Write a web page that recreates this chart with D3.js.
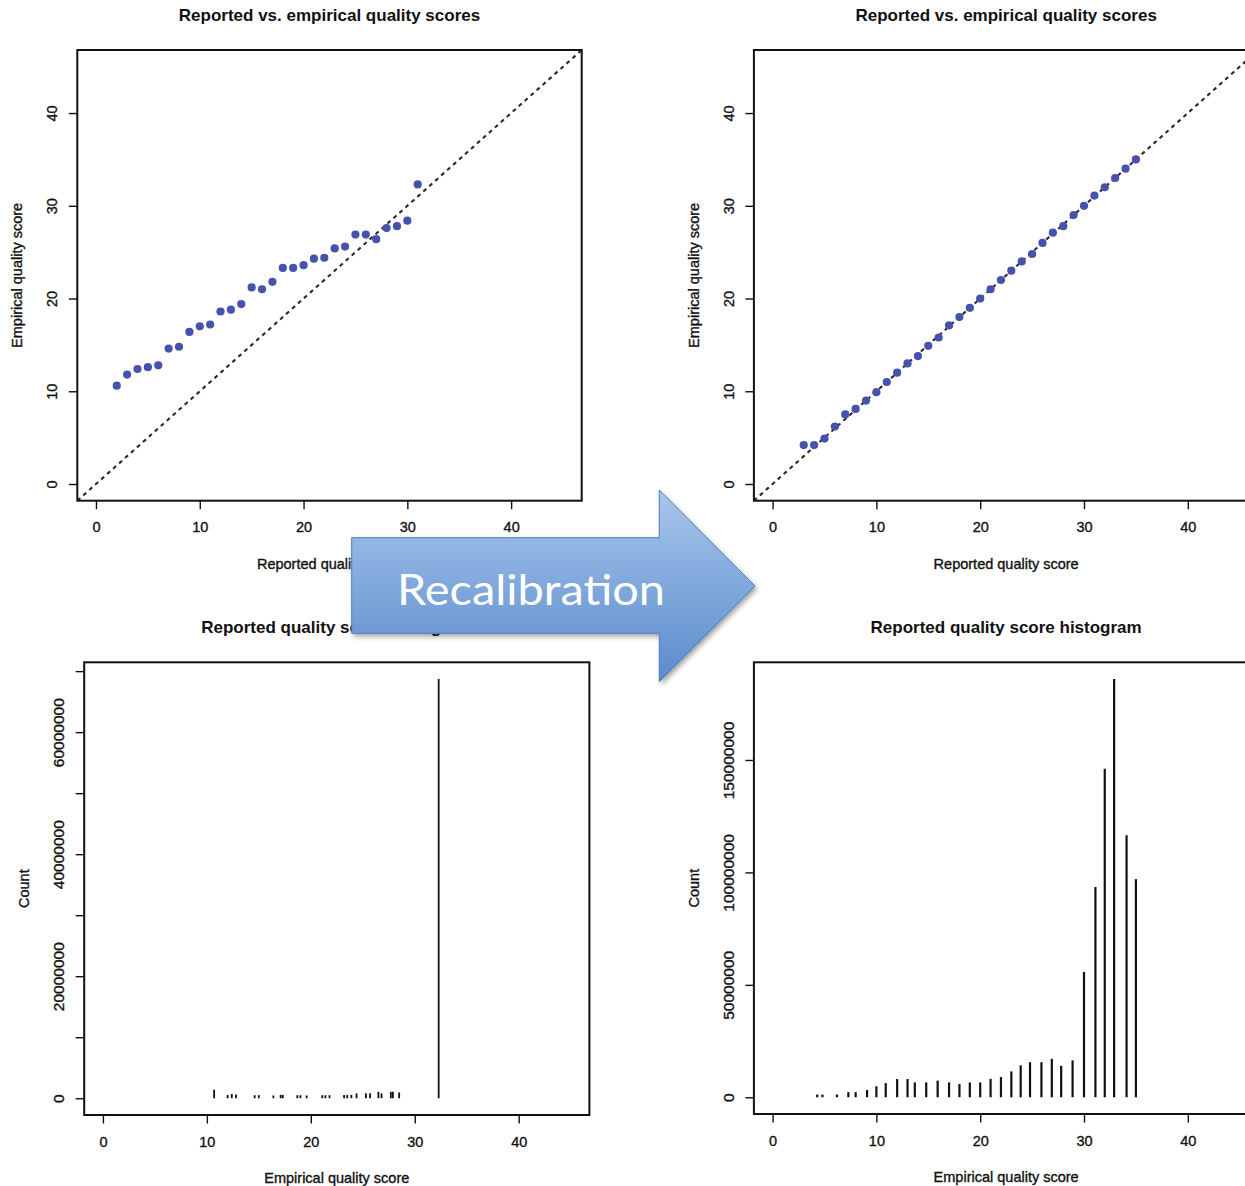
<!DOCTYPE html>
<html>
<head>
<meta charset="utf-8">
<script src="https://cdn.jsdelivr.net/npm/d3@7"></script>
<style>
  body { margin: 0; background: #fff; }
  svg text { font-family: "Liberation Sans", Arial, Helvetica, sans-serif; fill: #111; }
  svg .rtext { stroke: #111; stroke-width: 0.35px; }
</style>
</head>
<body>
<svg id="fig" width="1245" height="1186"></svg>
<script>
// ---- data ----
var reportedBefore = [2, 3, 4, 5, 6, 7, 8, 9, 10, 11, 12, 13, 14, 15, 16, 17, 18, 19, 20, 21, 22, 23, 24, 25, 26, 27, 28, 29, 30, 31];
var empiricalBefore = [10.6, 11.8, 12.4, 12.6, 12.8, 14.6, 14.8, 16.4, 17.0, 17.2, 18.6, 18.8, 19.4, 21.2, 21.0, 21.8,
                       23.3, 23.3, 23.6, 24.3, 24.4, 25.4, 25.6, 26.9, 26.9, 26.4, 27.6, 27.8, 28.4, 32.3];

var reportedAfter = [3, 4, 5, 6, 7, 8, 9, 10, 11, 12, 13, 14, 15, 16, 17, 18, 19, 20, 21, 22, 23, 24, 25, 26, 27, 28, 29, 30, 31, 32, 33, 34, 35];
var empiricalAfter = [4.2, 4.2, 4.9, 6.2, 7.5, 8.1, 9.0, 9.9, 11.0, 12.0, 13.0, 13.8, 14.9, 15.8, 17.1, 18.0, 19.0,
                      20.0, 21.0, 22.0, 23.0, 24.0, 24.8, 26.0, 27.1, 27.8, 29.0, 30.0, 31.1, 32.0, 33.0, 34.0, 35.0];

var histBeforeScore = [10.7, 12.0, 12.4, 12.8, 14.6, 15.0, 16.4, 17.1, 17.3, 18.7, 19.0, 19.6, 21.1, 21.4, 21.8,
                       23.2, 23.5, 23.9, 24.4, 25.3, 25.7, 26.5, 26.8, 27.7, 27.9, 28.5, 32.3];
var histBeforeCount = [1.4e6, 0.55e6, 0.7e6, 0.6e6, 0.5e6, 0.5e6, 0.45e6, 0.55e6, 0.55e6, 0.5e6, 0.5e6, 0.45e6, 0.5e6, 0.5e6, 0.5e6,
                       0.55e6, 0.55e6, 0.55e6, 0.8e6, 0.8e6, 0.8e6, 1.05e6, 0.8e6, 1.05e6, 1.05e6, 0.95e6, 68.7e6];

var histAfterScore = [4.3, 4.8, 6.2, 7.3, 8.0, 9.1, 10.0, 10.9, 12.0, 13.0, 13.7, 14.8, 15.9, 17.0, 18.0, 19.0, 20.0,
                      21.0, 22.0, 23.0, 23.9, 24.8, 25.9, 26.9, 27.8, 28.9, 30.0, 31.1, 32.0, 32.9, 34.1, 35.0];
var histAfterCount = [1.2e6, 1.2e6, 1.2e6, 2.3e6, 2.3e6, 3.2e6, 4.9e6, 6.3e6, 8.1e6, 8.1e6, 6.6e6, 6.6e6, 7.4e6, 6.6e6, 5.9e6, 6.6e6, 6.6e6,
                      8.2e6, 9.0e6, 11.5e6, 14.2e6, 15.6e6, 15.6e6, 17.1e6, 14.0e6, 16.4e6, 55.7e6, 93.5e6, 146.1e6, 186.0e6, 116.5e6, 97.0e6];

var qualityLimits = [0, 45];
var qualityTicks = [0, 10, 20, 30, 40];
var countTicksBefore = [0, 1e7, 2e7, 3e7, 4e7, 5e7, 6e7, 7e7];
var countLabelsBefore = [0, 2e7, 4e7, 6e7];
var countTicksAfter = [0, 5e7, 1e8, 1.5e8];

var titleScatter = "Reported vs. empirical quality scores";
var titleHist = "Reported quality score histogram";

var svg = d3.select("#fig");
var defs = svg.append("defs");

// R style axis limits: range extended 4% each side
function rlim(lim) {
    var pad = 0.04 * (lim[1] - lim[0]);
    return [lim[0] - pad, lim[1] + pad];
}

var fmt = d3.format("d");

function panel(box, xLim, yLim, yTicks, yLabelTicks, yFont, title, xLabel, yLabel) {
    var g = svg.append("g");
    var x = d3.scaleLinear().domain(rlim(xLim)).range([box.left, box.right]);
    var y = d3.scaleLinear().domain(rlim(yLim)).range([box.bottom, box.top]);

    g.append("g")
        .attr("transform", "translate(0," + box.bottom + ")")
        .call(d3.axisBottom(x).tickValues(qualityTicks).tickSize(8.5).tickPadding(13).tickFormat(fmt))
        .call(function (a) {
            a.select(".domain").remove();
            a.selectAll("line").attr("stroke", "#111").attr("stroke-width", 1.4);
            a.selectAll("text").attr("class", "rtext").style("font-size", "14.5px").attr("fill", "#111");
        });

    g.append("g")
        .attr("transform", "translate(" + box.left + ",0)")
        .call(d3.axisLeft(y).tickValues(yTicks).tickSize(8.5)
            .tickFormat(function (d) { return yLabelTicks.indexOf(d) >= 0 ? fmt(d) : ""; }))
        .call(function (a) {
            a.select(".domain").remove();
            a.selectAll("line").attr("stroke", "#111").attr("stroke-width", 1.4);
            a.selectAll("text")
                .attr("class", "rtext")
                .style("font-size", yFont).attr("fill", "#111")
                .attr("transform", "rotate(-90)")
                .attr("x", 0).attr("y", -20).attr("dy", 0)
                .attr("text-anchor", "middle");
        });

    g.append("text")
        .attr("x", (box.left + box.right) / 2).attr("y", box.top - 29)
        .attr("text-anchor", "middle")
        .style("font-size", "17px").style("font-weight", "bold")
        .text(title);

    g.append("text")
        .attr("class", "rtext")
        .attr("x", (box.left + box.right) / 2).attr("y", box.bottom + 68)
        .attr("text-anchor", "middle")
        .style("font-size", "14.5px")
        .text(xLabel);

    g.append("text")
        .attr("class", "rtext")
        .attr("transform", "translate(" + (box.left - 55) + "," + ((box.top + box.bottom) / 2) + ") rotate(-90)")
        .attr("text-anchor", "middle")
        .style("font-size", "14.5px")
        .text(yLabel);

    var id = "clip" + Math.round(box.left) + "_" + Math.round(box.top);
    defs.append("clipPath").attr("id", id)
        .append("rect")
        .attr("x", box.left).attr("y", box.top)
        .attr("width", box.right - box.left).attr("height", box.bottom - box.top);

    var plot = g.append("g").attr("clip-path", "url(#" + id + ")");

    g.append("rect")
        .attr("x", box.left).attr("y", box.top)
        .attr("width", box.right - box.left).attr("height", box.bottom - box.top)
        .attr("fill", "none").attr("stroke", "#111").attr("stroke-width", 2);

    return { x: x, y: y, plot: plot };
}

function scatter(p, xs, ys) {
    var d = rlim(qualityLimits);
    p.plot.append("line")
        .attr("x1", p.x(d[0])).attr("y1", p.y(d[0]))
        .attr("x2", p.x(d[1])).attr("y2", p.y(d[1]))
        .attr("stroke", "#2a2a2a").attr("stroke-width", 2.1)
        .attr("stroke-dasharray", "4,4");
    p.plot.selectAll("circle")
        .data(xs)
        .enter().append("circle")
        .attr("cx", function (v) { return p.x(v); })
        .attr("cy", function (v, i) { return p.y(ys[i]); })
        .attr("r", 4.1)
        .attr("fill", "#4652ad");
}

function spikes(p, xs, counts, w) {
    p.plot.selectAll("line.bar")
        .data(xs)
        .enter().append("line")
        .attr("class", "bar")
        .attr("x1", function (v) { return p.x(v); })
        .attr("x2", function (v) { return p.x(v); })
        .attr("y1", p.y(0))
        .attr("y2", function (v, i) { return p.y(counts[i]); })
        .attr("stroke", "#111").attr("stroke-width", w);
}

var boxTL = { left: 77.3, right: 581.7, top: 50, bottom: 500.7 };
var boxTR = { left: 753.9, right: 1258.4, top: 50, bottom: 500.7 };
var boxBL = { left: 84.2, right: 589.4, top: 662.3, bottom: 1115 };
var boxBR = { left: 753.9, right: 1258.4, top: 662.3, bottom: 1114 };

var tl = panel(boxTL, qualityLimits, qualityLimits, qualityTicks, qualityTicks, "14.5px", titleScatter, "Reported quality score", "Empirical quality score");
scatter(tl, reportedBefore, empiricalBefore);

var tr = panel(boxTR, qualityLimits, qualityLimits, qualityTicks, qualityTicks, "14.5px", titleScatter, "Reported quality score", "Empirical quality score");
scatter(tr, reportedAfter, empiricalAfter);

var bl = panel(boxBL, qualityLimits, [0, d3.max(histBeforeCount)], countTicksBefore, countLabelsBefore, "15.5px", titleHist, "Empirical quality score", "Count");
spikes(bl, histBeforeScore, histBeforeCount, 1.8);

var br = panel(boxBR, qualityLimits, [0, d3.max(histAfterCount)], countTicksAfter, countTicksAfter, "15.5px", titleHist, "Empirical quality score", "Count");
spikes(br, histAfterScore, histAfterCount, 2.2);

// ---- the "Recalibration" arrow on top ----
var grad = defs.append("linearGradient").attr("id", "arrowGrad")
    .attr("gradientUnits", "userSpaceOnUse")
    .attr("x1", 0).attr("y1", 490).attr("x2", 0).attr("y2", 682);
grad.append("stop").attr("offset", "0%").attr("stop-color", "#aac6ea");
grad.append("stop").attr("offset", "50%").attr("stop-color", "#80a8dc");
grad.append("stop").attr("offset", "100%").attr("stop-color", "#5a8bcc");

var shadow = defs.append("filter").attr("id", "arrowShadow")
    .attr("x", "-10%").attr("y", "-10%").attr("width", "130%").attr("height", "130%");
shadow.append("feDropShadow")
    .attr("dx", 2).attr("dy", 3).attr("stdDeviation", 2.5)
    .attr("flood-color", "#000").attr("flood-opacity", 0.35);

var arrowPts = [[351.7, 537.7], [659.3, 537.7], [659.3, 490], [755, 586], [659.3, 681.7], [659.3, 633.3], [351.7, 633.3]];
svg.append("path")
    .attr("d", d3.line()(arrowPts) + "Z")
    .attr("fill", "url(#arrowGrad)")
    .attr("stroke", "#4f7fbd").attr("stroke-width", 1)
    .attr("filter", "url(#arrowShadow)");

svg.append("text")
    .attr("x", 397).attr("y", 605)
    .attr("textLength", 268).attr("lengthAdjust", "spacingAndGlyphs")
    .style("font-family", "Lato, 'Open Sans', sans-serif")
    .style("font-size", "43px")
    .style("fill", "#fff")
    .text("Recalibration");
</script>
</body>
</html>
